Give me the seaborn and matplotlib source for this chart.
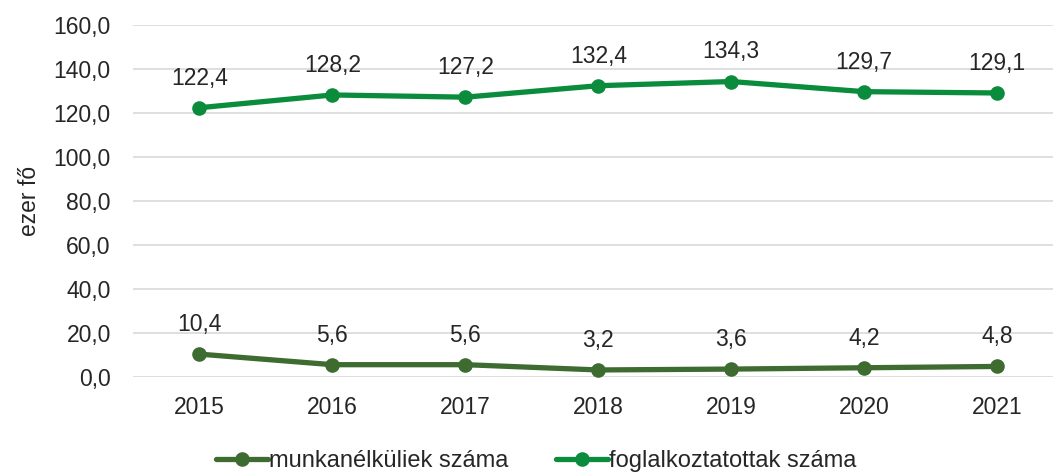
import numpy as np
import matplotlib.pyplot as plt
import seaborn as sns
import pandas as pd

years = ['2015', '2016', '2017', '2018', '2019', '2020', '2021']
munkanelkuliek = [10.4, 5.6, 5.6, 3.2, 3.6, 4.2, 4.8]
foglalkoztatottak = [122.4, 128.2, 127.2, 132.4, 134.3, 129.7, 129.1]
series_names = ['munkanélküliek száma', 'foglalkoztatottak száma']
colors = ['#3d6b30', '#0a8c3c']

sns.set_style('white')
plt.rcParams['font.family'] = ['Liberation Sans', 'DejaVu Sans']
fs = 16.5

df = pd.DataFrame({
    'ev': years * 2,
    'ertek': munkanelkuliek + foglalkoztatottak,
    'sor': [series_names[0]] * len(years) + [series_names[1]] * len(years),
})

fig = plt.figure(figsize=(10.53, 4.74), dpi=100)
ax = fig.add_axes([133 / 1053, 1 - 377 / 474, (1053 - 133) / 1053, (377 - 25) / 474])

sns.lineplot(data=df, x='ev', y='ertek', hue='sor', palette=colors, marker='o',
             markersize=10.5, linewidth=3.8, markeredgewidth=0, ax=ax, sort=False)

for vals in (munkanelkuliek, foglalkoztatottak):
    for i, v in enumerate(vals):
        ax.annotate(f'{v:.1f}'.replace('.', ','), (i, v), xytext=(0, 13),
                    textcoords='offset points', ha='center', va='bottom', fontsize=fs)

ax.set_ylim(0, 160)
ax.set_xlim(-0.5, 6.42)
ax.set_yticks(np.arange(0, 161, 20))
ax.set_yticklabels([f'{t:.1f}'.replace('.', ',') for t in np.arange(0, 161, 20)])
ax.yaxis.grid(True, color='#d9d9d9', linewidth=1.2)
ax.set_axisbelow(True)
for s in ax.spines.values():
    s.set_visible(False)
ax.tick_params(axis='both', length=0, labelsize=fs)
ax.tick_params(axis='y', pad=16)
ax.tick_params(axis='x', pad=14)
ax.set_xlabel('')
ax.set_ylabel('ezer fő', fontsize=fs, labelpad=9)

handles, labels = ax.get_legend_handles_labels()
ax.get_legend().remove()
fig.legend(handles, labels, loc='center', bbox_to_anchor=(536 / 1053, 1 - 461 / 474), ncol=2,
           frameon=False, fontsize=17, handlelength=2.2, handletextpad=0.05,
           columnspacing=2.0)

fig.savefig('out.png', dpi=100)
